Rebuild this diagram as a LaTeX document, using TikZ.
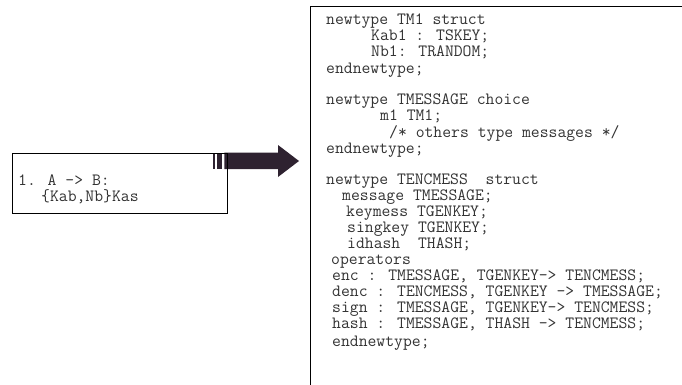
\documentclass[tikz,border=0pt]{standalone}
\usepackage{fontspec}
\definecolor{codegray}{HTML}{333333}
\definecolor{arrowplum}{HTML}{2E2230}
\begin{document}
\begin{tikzpicture}[x=1pt,y=-1pt,
  code/.style={anchor=base west, inner sep=0pt, text=codegray,
    font=\ttfamily\fontsize{17.2}{16}\selectfont},
  frame/.style={draw=black, line width=1.2pt}]
\useasboundingbox (0,0) rectangle (682,385);
\clip (0,0) rectangle (682,385);

% block arrow with two stripes at its tail
\fill[arrowplum] (213.3,152.5) rectangle (215.3,169);
\fill[arrowplum] (216.7,152.5) rectangle (222,169);
\fill[arrowplum] (224.3,152.5) -- (278,152.5) -- (278,145) -- (299,161)
  -- (278,177) -- (278,169) -- (224.3,169) -- cycle;

% message box
\node[frame, minimum width=215pt, minimum height=60pt, inner sep=0pt,
  anchor=north west] (msg) at (12,153) {};
\node[code] (m1) at (18,185) {1. A -> B:};
\node[code] (m2) at (41,201) {\{Kab,Nb\}Kas};

% specification panel, open to the right and bottom
\coordinate (specbl) at (310.5,392);
\coordinate (spectl) at (310.5,6.5);
\coordinate (spectr) at (690,6.5);
\draw[line width=1.4pt] (specbl) -- (spectl) -- (spectr);

\node[code] (l1)  at (326,25)  {newtype TM1 struct};
\node[code] (l2)  at (371,41)  {Kab1 : TSKEY;};
\node[code] (l3)  at (371,57)  {Nb1: TRANDOM;};
\node[code] (l4)  at (326,74)  {endnewtype;};
\node[code] (l5)  at (326,105) {newtype TMESSAGE choice};
\node[code] (l6)  at (380,121) {m1 TM1;};
\node[code] (l7)  at (389,137) {/* others type messages */};
\node[code] (l8)  at (326,153) {endnewtype;};
\node[code] (l9)  at (326,184) {newtype TENCMESS~ struct};
\node[code] (l10) at (342,200) {message TMESSAGE;};
\node[code] (l11) at (346,216) {keymess TGENKEY;};
\node[code] (l12) at (347,232) {singkey TGENKEY;};
\node[code] (l13) at (347,248) {idhash~ THASH;};
\node[code] (l14) at (331,264) {operators};
\node[code] (l15) at (332,280) {enc : TMESSAGE, TGENKEY-> TENCMESS;};
\node[code] (l16) at (332,296) {denc : TENCMESS, TGENKEY -> TMESSAGE;};
\node[code] (l17) at (332,312) {sign : TMESSAGE, TGENKEY-> TENCMESS;};
\node[code] (l18) at (332,328) {hash : TMESSAGE, THASH -> TENCMESS;};
\node[code] (l19) at (332,346) {endnewtype;};
\end{tikzpicture}
\end{document}
